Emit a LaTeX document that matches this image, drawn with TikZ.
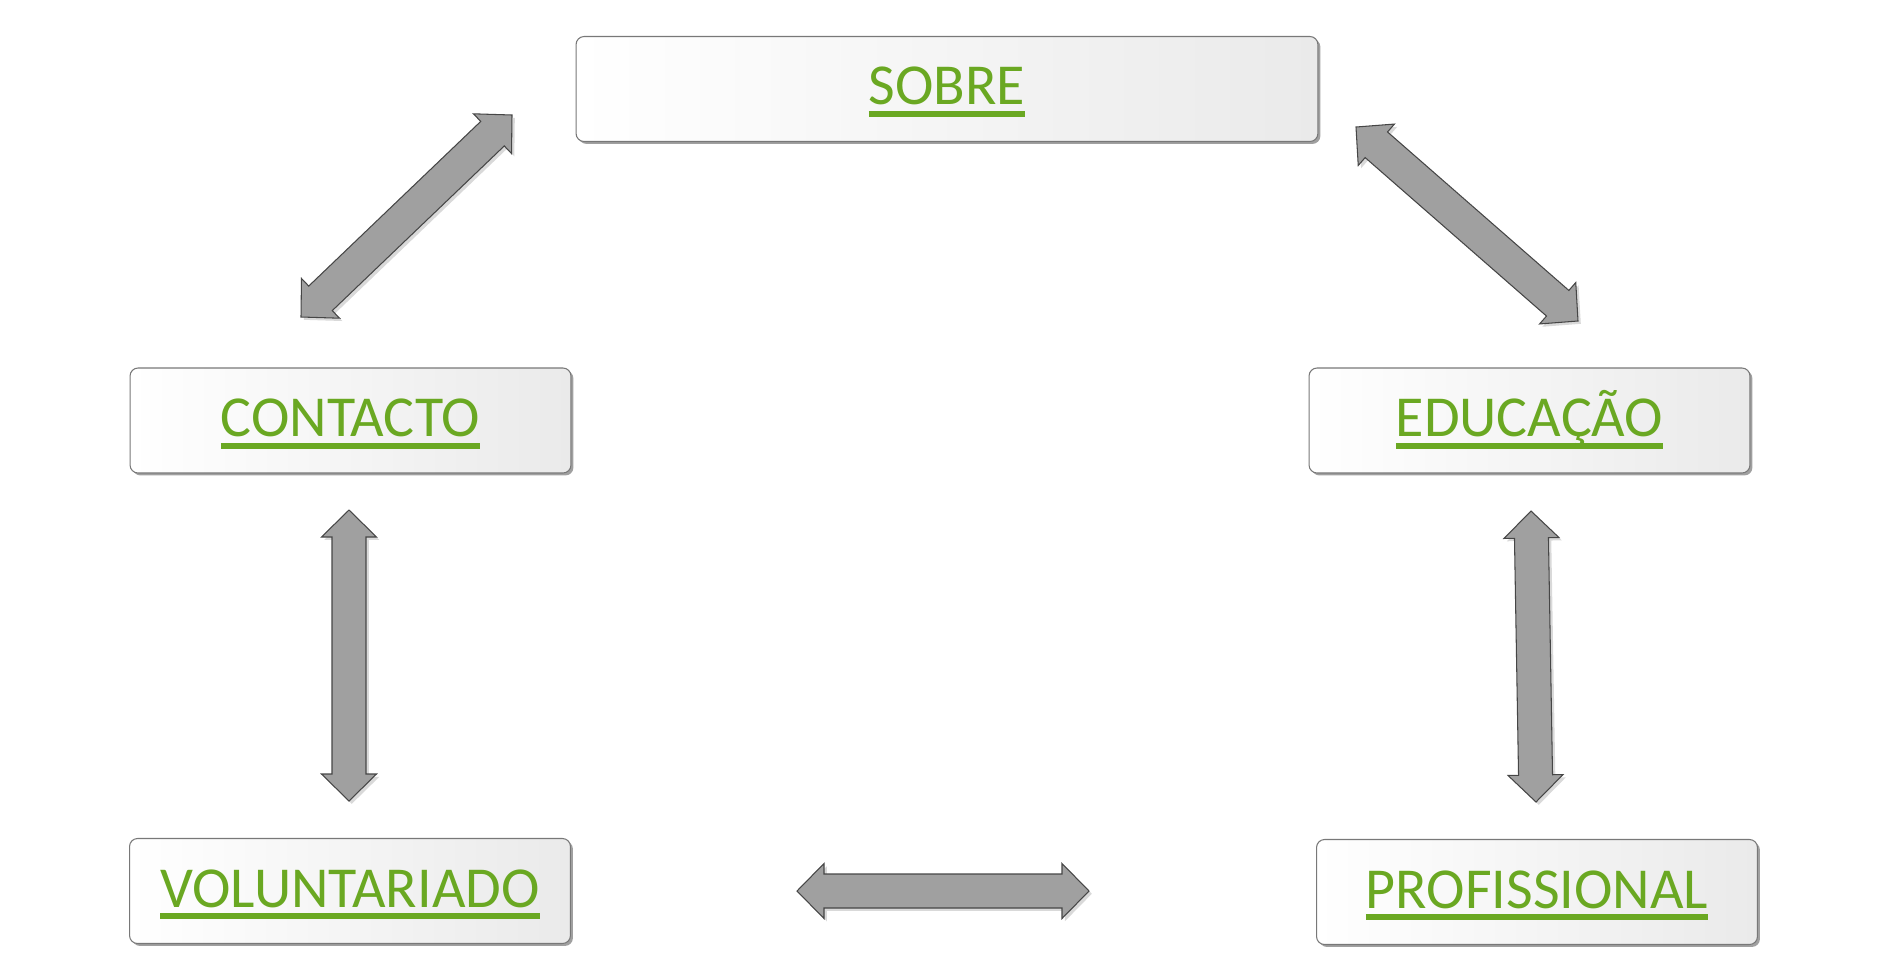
\documentclass[tikz,border=0pt]{standalone}
\usepackage{fontspec}
\setmainfont{Carlito}
\usepackage{xcolor}
\usepackage{tikz}
\usetikzlibrary{positioning,calc,shadows}

\definecolor{linkgreen}{RGB}{106,168,34}
\definecolor{boxedge}{RGB}{120,120,120}
\definecolor{boxgray}{RGB}{234,234,234}
\definecolor{arrowgray}{RGB}{160,160,160}
\definecolor{arrowedge}{RGB}{70,70,70}

\tikzset{
  menubox/.style={rounded corners=0.16cm, draw=boxedge, line width=0.6pt,
    left color=white, right color=boxgray, minimum width=8.82cm, minimum height=2.1cm,
    text=linkgreen, font=\fontsize{33}{40}\selectfont, text height=25pt, text depth=6.8pt,
    drop shadow={shadow xshift=1.4pt, shadow yshift=-1.4pt, opacity=0.75}},
  fatarrow/.style={fill=arrowgray, draw=arrowedge, line width=0.6pt, line join=miter,
    drop shadow={shadow xshift=1.6pt, shadow yshift=-1.6pt, opacity=0.3}}
}

% underlined link text
\newcommand{\lnk}[1]{\setbox0\hbox{#1}\rlap{\rule[-0.21em]{\wd0}{0.1em}}\box0}

% head length, head half width, shaft half width
\newcommand{\arrhl}{0.54cm}
\newcommand{\arrhw}{0.55cm}
\newcommand{\arrsw}{0.34cm}
\newcommand{\dblarrow}[2]{%
  \draw[fatarrow] (#1)
    -- ($(#1)!\arrhl!(#2)!\arrhw!90:(#2)$)
    -- ($(#1)!\arrhl!(#2)!\arrsw!90:(#2)$)
    -- ($(#2)!\arrhl!(#1)!\arrsw!-90:(#1)$)
    -- ($(#2)!\arrhl!(#1)!\arrhw!-90:(#1)$)
    -- (#2)
    -- ($(#2)!\arrhl!(#1)!\arrhw!90:(#1)$)
    -- ($(#2)!\arrhl!(#1)!\arrsw!90:(#1)$)
    -- ($(#1)!\arrhl!(#2)!\arrsw!-90:(#2)$)
    -- ($(#1)!\arrhl!(#2)!\arrhw!-90:(#2)$)
    -- cycle;}

\begin{document}
\begin{tikzpicture}[x=0.02cm,y=-0.02cm]
        \useasboundingbox (0,0) rectangle (1881,968);

        % Draw the boxes
        \node[menubox, minimum width=14.84cm] (sobre) at (947,89) {\lnk{SOBRE}};
        \node[menubox] (contacto) at (350.5,420.5) {\lnk{CONTACTO}};
        \node[menubox] (educacao) at (1529.5,420.5) {\lnk{EDUCAÇÃO}};
        \node[menubox] (voluntariado) at (350,891) {\lnk{VOLUNTARIADO}};
        \node[menubox] (profissional) at (1537,892) {\lnk{PROFISSIONAL}};

        % Arrow ends
        \coordinate (cs1) at (301,317);
        \coordinate (cs2) at (512,115);
        \coordinate (se1) at (1356,127);
        \coordinate (se2) at (1578,321);
        \coordinate (cv1) at (349,510);
        \coordinate (cv2) at (349,801);
        \coordinate (ep1) at (1531,511);
        \coordinate (ep2) at (1536,802);
        \coordinate (vp1) at (797,891);
        \coordinate (vp2) at (1089,891);

        % Draw the arrows
        \dblarrow{cs1}{cs2}
        \dblarrow{se1}{se2}
        \dblarrow{cv1}{cv2}
        \dblarrow{ep1}{ep2}
        \dblarrow{vp1}{vp2}

    \end{tikzpicture}
\end{document}
